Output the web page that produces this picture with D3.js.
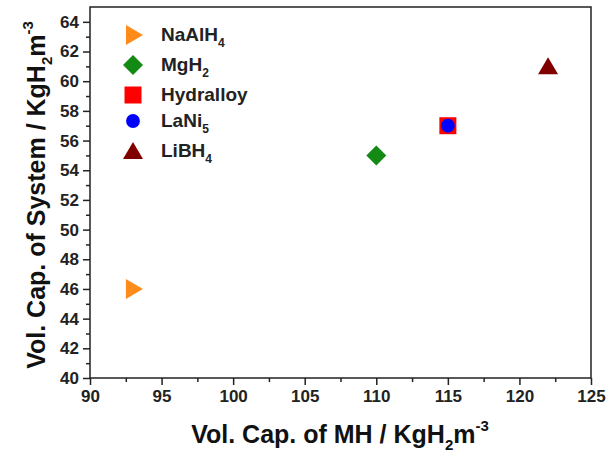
<!DOCTYPE html>
<html>
<head>
<meta charset="utf-8">
<script src="https://cdn.jsdelivr.net/npm/d3@7"></script>
<style>
  html, body { margin: 0; padding: 0; background: #fff; }
  svg { display: block; font-family: "Liberation Sans", Arial, sans-serif; }
</style>
</head>
<body>
<svg id="chart" width="606" height="457"></svg>
<script>
// Hydride materials: volumetric capacity of the hydride vs. of the whole system
const materials = ["NaAlH4", "MgH2", "Hydralloy", "LaNi5", "LiBH4"];
const capMH     = [93, 110, 115, 115, 122];
const capSystem = [46, 55, 57, 57, 61];
const colors    = ["#ff8c1a", "#138a13", "#ff0000", "#0000ff", "#800000"];
const symbols   = ["triRight", "diamond", "square", "circle", "triUp"];

const xTicks = [90, 95, 100, 105, 110, 115, 120, 125];
const yTicks = [40, 42, 44, 46, 48, 50, 52, 54, 56, 58, 60, 62, 64];

const svg = d3.select("#chart");
const m = { left: 90, right: 591, top: 7, bottom: 378 };

const x = d3.scaleLinear().domain([90, 125]).range([m.left, m.right]);
const y = d3.scaleLinear().domain([40, 65]).range([m.bottom, m.top]);

// frame
svg.append("rect")
  .attr("x", m.left).attr("y", m.top)
  .attr("width", m.right - m.left).attr("height", m.bottom - m.top)
  .attr("fill", "none").attr("stroke", "#222").attr("stroke-width", 1.5);

// x axis: major + minor ticks
const xAxis = svg.append("g").attr("transform", `translate(0,${m.bottom})`);
xAxis.call(d3.axisBottom(x).tickValues(d3.range(92.5, 125, 5)).tickSize(4).tickFormat(""));
xAxis.call(g => g.append("g").call(d3.axisBottom(x).tickValues(xTicks).tickSize(7).tickPadding(5).tickFormat(d3.format("d"))));
xAxis.selectAll(".domain").remove();
xAxis.selectAll("line").attr("stroke", "#222").attr("stroke-width", 1.5);
xAxis.selectAll("text").attr("fill", "#222").style("font-size", "17px").style("font-weight", "bold");

// y axis: major + minor ticks
const yAxis = svg.append("g").attr("transform", `translate(${m.left},0)`);
yAxis.call(d3.axisLeft(y).tickValues(d3.range(41, 65, 2)).tickSize(4).tickFormat(""));
yAxis.call(g => g.append("g").call(d3.axisLeft(y).tickValues(yTicks).tickSize(7).tickPadding(4).tickFormat(d3.format("d"))));
yAxis.selectAll(".domain").remove();
yAxis.selectAll("line").attr("stroke", "#222").attr("stroke-width", 1.5);
yAxis.selectAll("text").attr("fill", "#222").style("font-size", "17px").style("font-weight", "bold");

// marker shapes
function markerPath(kind) {
  switch (kind) {
    case "triRight": return "M-7,-10 L10,0 L-7,10 Z";
    case "diamond":  return "M0,-10 L10,0 L0,10 L-10,0 Z";
    case "square":   return "M-8.5,-8.5 H8.5 V8.5 H-8.5 Z";
    case "circle":   return d3.symbol(d3.symbolCircle, 150)();
    case "triUp":    return "M0,-9 L10,8 L-10,8 Z";
  }
}

// data points
svg.append("g").selectAll("path")
  .data(materials.map((d, i) => i))
  .join("path")
  .attr("transform", i => `translate(${x(capMH[i])},${y(capSystem[i])})`)
  .attr("d", i => markerPath(symbols[i]))
  .attr("fill", i => colors[i]);

// legend
const legendY = [35, 65, 95, 121, 151];
const leg = svg.append("g");
materials.forEach((name, i) => {
  leg.append("path")
    .attr("transform", `translate(133,${legendY[i]})`)
    .attr("d", markerPath(symbols[i]))
    .attr("fill", colors[i]);
});
const legendLabels = [
  ["NaAlH", "4"], ["MgH", "2"], ["Hydralloy", ""], ["LaNi", "5"], ["LiBH", "4"]
];
legendLabels.forEach(([base, sub], i) => {
  const t = leg.append("text")
    .attr("x", 161).attr("y", legendY[i] + 6)
    .attr("fill", "#222").style("font-size", "19px").style("font-weight", "bold");
  t.append("tspan").text(base);
  if (sub) t.append("tspan").attr("dy", 6).style("font-size", "12px").text(sub);
});

// axis titles
function unitTitle(sel, prefix) {
  sel.append("tspan").text(prefix + "KgH");
  sel.append("tspan").attr("dy", 7).style("font-size", "15px").text("2");
  sel.append("tspan").attr("dy", -7).text("m");
  sel.append("tspan").attr("dy", -12).style("font-size", "15px").text("-3");
}

const xt = svg.append("text")
  .attr("x", 340).attr("y", 443)
  .attr("text-anchor", "middle")
  .attr("fill", "#111").style("font-size", "25px").style("font-weight", "bold");
unitTitle(xt, "Vol. Cap. of MH / ");

const yt = svg.append("text")
  .attr("transform", "translate(45,195) rotate(-90)")
  .attr("text-anchor", "middle")
  .attr("fill", "#111").style("font-size", "25px").style("font-weight", "bold");
unitTitle(yt, "Vol. Cap. of System / ");
</script>
</body>
</html>
